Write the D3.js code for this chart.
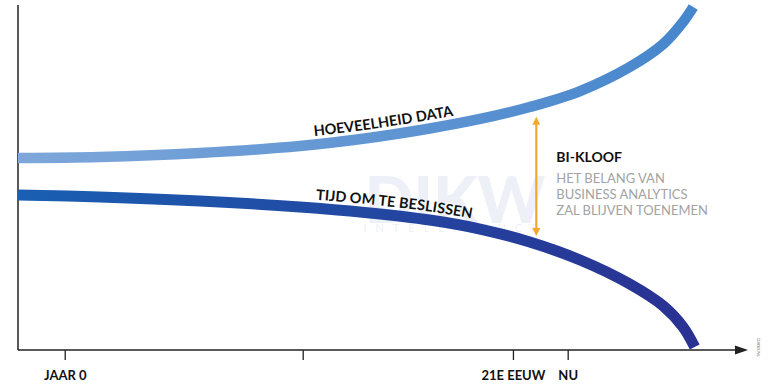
<!DOCTYPE html>
<html>
<head>
<meta charset="utf-8">
<script src="https://cdn.jsdelivr.net/npm/d3@7"></script>
<style>
  html, body { margin: 0; padding: 0; background: #fff; }
  svg { display: block; font-family: Lato, "Open Sans", sans-serif; }
</style>
</head>
<body>
<svg width="768" height="384"></svg>
<script>
// Data (x: 0..100 along the time axis, y: 0..100 up the vertical axis)
const dataX  = [0, 11.2, 24.9, 38.6, 47.5, 56.4, 63.3, 70.1, 77.0, 83.8, 88.4, 91.1, 92.5];
const dataY  = [55.65, 55.94, 57.1, 59.13, 61.3, 64.2, 66.96, 70.43, 75.07, 82.03, 88.7, 95.07, 99.42];
const timeX  = [0, 11.2, 24.9, 38.6, 47.5, 56.4, 63.3, 70.1, 77.0, 83.8, 88.4, 91.1, 92.7];
const timeY  = [44.93, 44.35, 43.19, 41.45, 39.86, 37.68, 35.07, 31.3, 26.09, 19.13, 12.75, 6.67, 0.87];
const tickValues = [6.4, 39, 67.8, 75.3];
const tickLabels = ["JAAR 0", "", "21E EEUW", "NU"];
const gapAt = 71.0;             // position of the BI-kloof arrow
const gapRange = [68.1, 32.5];  // top / bottom of the arrow
const noteTitle = "BI-KLOOF";
const noteLines = ["HET BELANG VAN", "BUSINESS ANALYTICS", "ZAL BLIJVEN TOENEMEN"];

const svg = d3.select("svg");

const x = d3.scaleLinear().domain([0, 100]).range([18, 748]);
const y = d3.scaleLinear().domain([0, 100]).range([350, 5]);

// Gradients for the two lines
const defs = svg.append("defs");
function gradient(id, c1, c2) {
  const g = defs.append("linearGradient")
    .attr("id", id)
    .attr("gradientUnits", "userSpaceOnUse")
    .attr("x1", x(0)).attr("x2", x(93)).attr("y1", 0).attr("y2", 0);
  g.append("stop").attr("offset", 0).attr("stop-color", c1);
  g.append("stop").attr("offset", 1).attr("stop-color", c2);
}
gradient("gradData", "#7ea7da", "#4686cc");
gradient("gradTime", "#1a5fb2", "#2a3192");

defs.append("marker")
  .attr("id", "arrowHead")
  .attr("viewBox", "0 0 10 10")
  .attr("refX", 1).attr("refY", 5)
  .attr("markerWidth", 10).attr("markerHeight", 8)
  .attr("markerUnits", "userSpaceOnUse")
  .attr("orient", "auto-start-reverse")
  .append("path")
  .attr("d", "M0,0 L10,5 L0,10 Z")
  .attr("fill", "#f0a92e");

// Faint watermark
const wm = svg.append("g").attr("fill", "#edf1f7");
wm.append("text")
  .attr("x", 455).attr("y", 223)
  .attr("text-anchor", "middle")
  .style("font-size", "64px").style("font-weight", 900)
  .text("DIKW");
wm.append("text")
  .attr("x", 455).attr("y", 232)
  .attr("text-anchor", "middle")
  .style("font-size", "11px").style("letter-spacing", "9px")
  .text("INTELLIGENCE");

// Axes
svg.append("line")
  .attr("x1", x(0)).attr("x2", x(0))
  .attr("y1", y(100)).attr("y2", y(0))
  .attr("stroke", "#222").attr("stroke-width", 1.5);

const xAxis = d3.axisBottom(x)
  .tickValues(tickValues)
  .tickFormat((d, i) => tickLabels[i])
  .tickSize(10)
  .tickPadding(11)
  .tickSizeOuter(0);

const gx = svg.append("g")
  .attr("transform", `translate(0,${y(0)})`)
  .call(xAxis);
gx.select(".domain").remove();
gx.selectAll(".tick line").attr("stroke", "#222").attr("stroke-width", 1.3);
gx.selectAll(".tick text")
  .attr("fill", "#111")
  .style("font-family", "Lato, sans-serif")
  .style("font-size", "13px")
  .style("font-weight", 700);

svg.append("line")
  .attr("x1", x(0)).attr("x2", x(100) - 12)
  .attr("y1", y(0)).attr("y2", y(0))
  .attr("stroke", "#222").attr("stroke-width", 1.5);
svg.append("path")
  .attr("d", `M${x(100) - 13},${y(0) - 4.5} L${x(100)},${y(0)} L${x(100) - 13},${y(0) + 4.5} Z`)
  .attr("fill", "#222");

// Lines
const line = d3.line().x(d => x(d[0])).y(d => y(d[1])).curve(d3.curveCatmullRom.alpha(0.5));

const dataPts = dataX.map((v, i) => [v, dataY[i]]);
const timePts = timeX.map((v, i) => [v, timeY[i]]);

const dataPath = svg.append("path")
  .attr("id", "dataLine")
  .attr("d", line(dataPts))
  .attr("fill", "none")
  .attr("stroke", "url(#gradData)")
  .attr("stroke-width", 10.5);

const timePath = svg.append("path")
  .attr("id", "timeLine")
  .attr("d", line(timePts))
  .attr("fill", "none")
  .attr("stroke", "url(#gradTime)")
  .attr("stroke-width", 11);

// Find distance along a path where it reaches a given x pixel
function lengthAtX(node, px) {
  let lo = 0, hi = node.getTotalLength();
  for (let k = 0; k < 40; k++) {
    const mid = (lo + hi) / 2;
    if (node.getPointAtLength(mid).x < px) lo = mid; else hi = mid;
  }
  return lo;
}

function pathLabel(path, id, label, startX) {
  svg.append("text")
    .attr("dy", -8.5)
    .style("font-size", "14.5px")
    .style("font-weight", 700)
    .attr("fill", "#111")
    .append("textPath")
    .attr("href", "#" + id)
    .attr("startOffset", lengthAtX(path.node(), startX))
    .text(label);
}
pathLabel(dataPath, "dataLine", "HOEVEELHEID DATA", 315);
pathLabel(timePath, "timeLine", "TIJD OM TE BESLISSEN", 315);

// BI-kloof arrow
svg.append("line")
  .attr("x1", x(gapAt)).attr("x2", x(gapAt))
  .attr("y1", y(gapRange[0]) + 9).attr("y2", y(gapRange[1]) - 9)
  .attr("stroke", "#f0a92e").attr("stroke-width", 2.2)
  .attr("marker-start", "url(#arrowHead)")
  .attr("marker-end", "url(#arrowHead)");

// Note
const note = svg.append("g").attr("transform", `translate(${x(gapAt) + 20},0)`);
note.append("text")
  .attr("y", 162)
  .style("font-size", "14px").style("font-weight", 700)
  .attr("fill", "#111")
  .text(noteTitle);
note.selectAll(".note-line")
  .data(noteLines)
  .enter()
  .append("text")
  .attr("class", "note-line")
  .attr("y", (d, i) => 183 + i * 16)
  .style("font-size", "13px")
  .attr("fill", "#a3a3a3")
  .text(d => d);

// Small vertical mark in the bottom-right corner
svg.append("text")
  .attr("transform", "translate(757,338) rotate(90)")
  .style("font-size", "4.5px")
  .attr("fill", "#555")
  .text("DIKW.NL");
</script>
</body>
</html>
